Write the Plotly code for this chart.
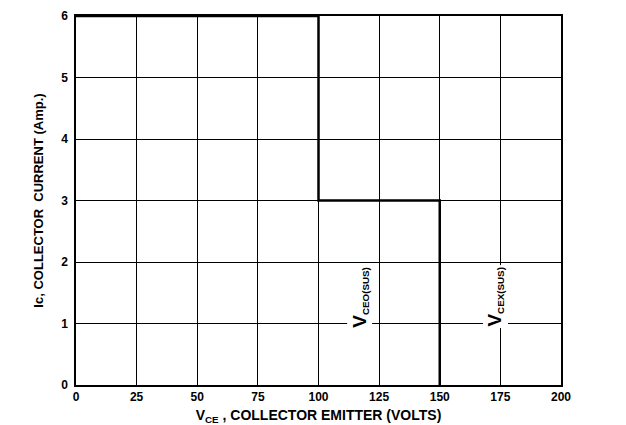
import plotly.graph_objects as go

# Safe operating area boundary (V_CE in volts, I_C in amps)
boundary_v = [0, 100, 100, 150, 150]
boundary_i = [6, 6, 3, 3, 0]

x_ticks = [0, 25, 50, 75, 100, 125, 150, 175, 200]
y_ticks = [0, 1, 2, 3, 4, 5, 6]

label_main = ["V", "V"]
label_sub = ["CEO(SUS)", "CEX(SUS)"]
label_v = [117, 173]
label_i = [1.43, 1.43]

tick_font = dict(family="Liberation Sans, Arial", size=12, color="black")
title_font = dict(family="Liberation Sans, Arial", size=13, color="black")

fig = go.Figure()
fig.add_trace(go.Scatter(x=boundary_v, y=boundary_i, mode="lines",
                         line=dict(color="black", width=2.5), showlegend=False,
                         hoverinfo="skip"))

for m, s, xv, yv in zip(label_main, label_sub, label_v, label_i):
    fig.add_annotation(x=xv, y=yv,
                       text="<b><span style='font-size:19px'>%s</span><sub>%s</sub></b>" % (m, s),
                       textangle=-90, showarrow=False, bgcolor="white",
                       font=dict(family="Liberation Sans, Arial", size=14, color="black"))

fig.update_layout(
    width=626, height=425,
    margin=dict(l=68, r=73, t=8, b=48),
    paper_bgcolor="white", plot_bgcolor="white",
    xaxis=dict(range=[0, 200], tickvals=x_ticks,
               ticktext=["<b>%d</b>" % v for v in x_ticks], tickfont=tick_font,
               showgrid=True, gridcolor="black", gridwidth=1,
               showline=True, linecolor="black", linewidth=1.5, mirror=True,
               zeroline=False, ticks="", automargin=False,
               title=dict(text="<b>V<sub>CE</sub> , COLLECTOR EMITTER (VOLTS)</b>",
                          standoff=7, font=dict(family="Liberation Sans, Arial", size=14, color="black"))),
    yaxis=dict(range=[0, 6], tickvals=y_ticks,
               ticktext=["<b>%d</b>" % v for v in y_ticks], tickfont=tick_font,
               showgrid=True, gridcolor="black", gridwidth=1,
               showline=True, linecolor="black", linewidth=1.5, mirror=True,
               zeroline=False, ticks="", ticklabelstandoff=4, automargin=False,
               title=dict(text="<b>Ic, COLLECTOR  CURRENT (Amp.)</b>",
                          standoff=15, font=title_font)),
)

fig.write_html("out.html")
